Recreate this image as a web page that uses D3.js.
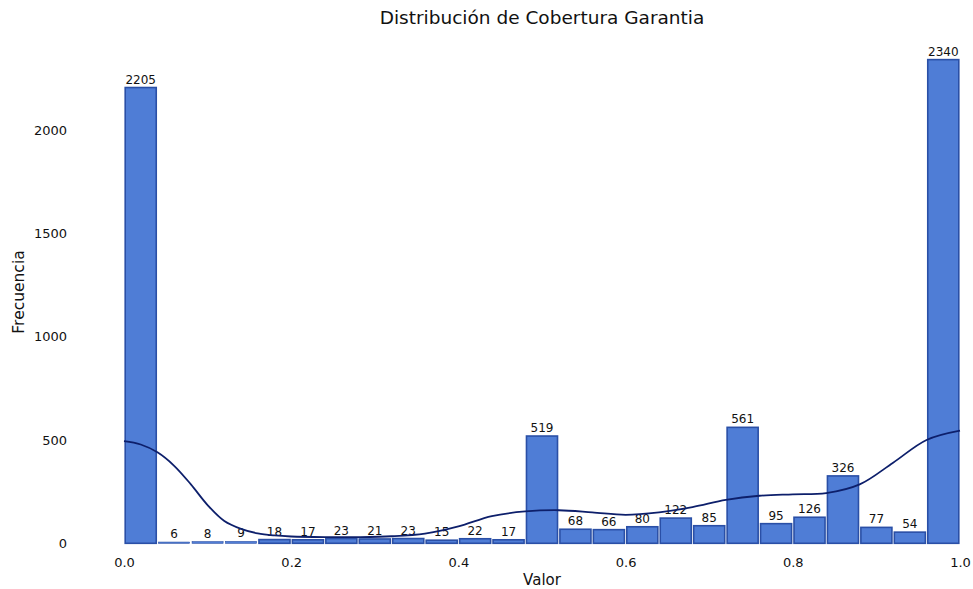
<!DOCTYPE html>
<html>
<head>
<meta charset="utf-8">
<script src="https://cdn.jsdelivr.net/npm/d3@7"></script>
<style>
  html, body { margin: 0; padding: 0; background: #fff; }
  svg { display: block; font-family: "DejaVu Sans", sans-serif; }
</style>
</head>
<body>
<svg id="chart" width="973" height="589"></svg>
<script>
// Histogram counts per bin (25 bins of width 0.04 over [0, 1])
const binEdges = d3.range(0, 25).map(i => i * 0.04);
const binWidth = 0.04;
const counts = [2205, 6, 8, 9, 18, 17, 23, 21, 23, 15, 22, 17, 519, 68, 66, 80, 122, 85, 561, 95, 126, 326, 77, 54, 2340];

// Density estimate overlay, scaled to counts
const kdeX = [0.0, 0.02, 0.04, 0.06, 0.08, 0.10, 0.12, 0.14, 0.16, 0.18, 0.20, 0.24, 0.28, 0.32, 0.36, 0.40, 0.44, 0.48, 0.52, 0.56, 0.60, 0.64, 0.68, 0.72, 0.76, 0.80, 0.84, 0.88, 0.92, 0.96, 1.0];
const kdeY = [494, 478, 440, 375, 285, 185, 108, 70, 48, 38, 33, 30, 30, 34, 47, 82, 132, 154, 160, 150, 138, 150, 175, 210, 230, 237, 243, 285, 390, 500, 545];

const xTicks = [0.0, 0.2, 0.4, 0.6, 0.8, 1.0];
const yTicks = [0, 500, 1000, 1500, 2000];

const svg = d3.select("#chart");
const left = 124, right = 960, bottom = 543.3;

const x = d3.scaleLinear().domain([0, 1]).range([left, right]);
const y = d3.scaleLinear().domain([0, 2000]).range([bottom, bottom - 413.4]);

// Title
svg.append("text")
  .attr("x", (left + right) / 2).attr("y", 24)
  .attr("text-anchor", "middle")
  .attr("font-size", 18.5).attr("fill", "#111")
  .text("Distribución de Cobertura Garantia");

// Bars
const bars = svg.append("g");
counts.forEach((c, i) => {
  const x0 = x(binEdges[i]) + 1.2, x1 = x(binEdges[i] + binWidth) - 1.2;
  const h = bottom - y(c);
  bars.append("rect")
    .attr("x", x0).attr("y", y(c))
    .attr("width", x1 - x0).attr("height", h)
    .attr("fill", "#4f7dd6")
    .attr("stroke", "#2a4fa6")
    .attr("stroke-width", h < 2 ? 0.6 : 1.6);
  svg.append("text")
    .attr("x", (x0 + x1) / 2).attr("y", y(c) - 4)
    .attr("text-anchor", "middle")
    .attr("font-size", 12).attr("fill", "#111")
    .text(c);
});

// Density line
const line = d3.line()
  .x((d, i) => x(kdeX[i]))
  .y(d => y(d))
  .curve(d3.curveCatmullRom.alpha(0.5));
svg.append("path")
  .datum(kdeY)
  .attr("d", line)
  .attr("fill", "none")
  .attr("stroke", "#0d1f6b")
  .attr("stroke-width", 1.8);

// Axes (labels only, no spines or tick marks)
const xAxis = svg.append("g")
  .attr("transform", `translate(0,${bottom})`)
  .call(d3.axisBottom(x).tickValues(xTicks).tickFormat(d3.format(".1f")).tickSize(0).tickPadding(14));
xAxis.select(".domain").remove();
xAxis.selectAll("text").attr("font-size", 13).attr("fill", "#111").attr("font-family", "DejaVu Sans, sans-serif");

const yAxis = svg.append("g")
  .attr("transform", `translate(${left - 57},0)`)
  .call(d3.axisLeft(y).tickValues(yTicks).tickFormat(d3.format("d")).tickSize(0).tickPadding(0));
yAxis.select(".domain").remove();
yAxis.selectAll("text").attr("font-size", 13).attr("fill", "#111").attr("font-family", "DejaVu Sans, sans-serif");

// Axis titles
svg.append("text")
  .attr("x", (left + right) / 2).attr("y", 585)
  .attr("text-anchor", "middle")
  .attr("font-size", 15).attr("fill", "#111")
  .text("Valor");
svg.append("text")
  .attr("transform", `translate(24,292) rotate(-90)`)
  .attr("text-anchor", "middle")
  .attr("font-size", 15.5).attr("fill", "#111")
  .text("Frecuencia");
</script>
</body>
</html>
